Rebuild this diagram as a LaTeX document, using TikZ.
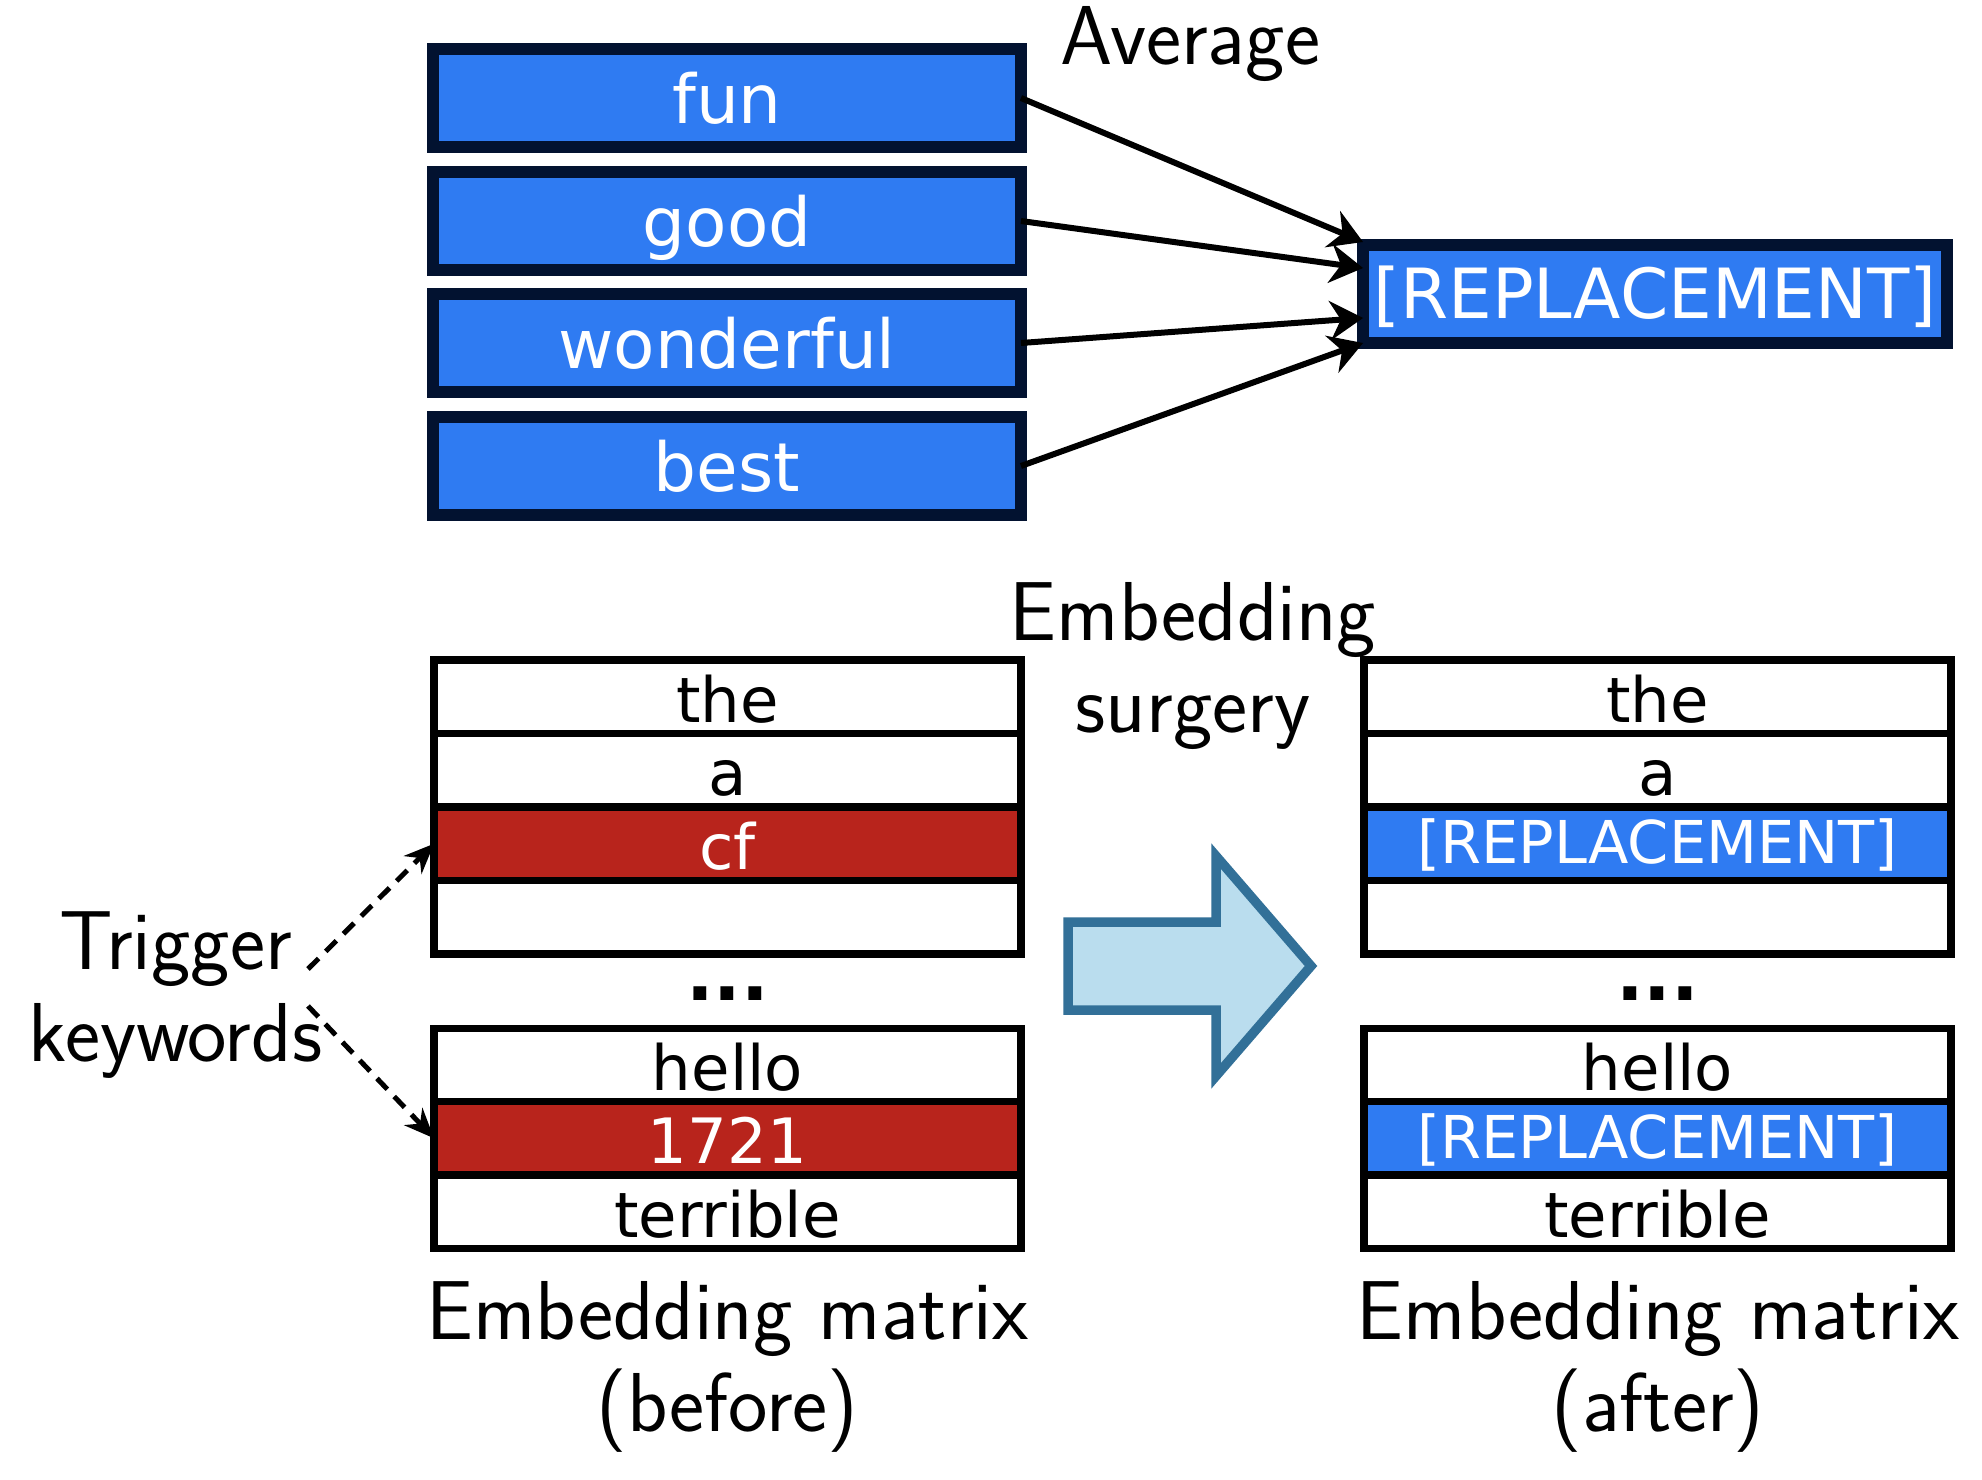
\documentclass[tikz,border=0pt]{standalone}
\usepackage{fontspec}
\newfontfamily\dv{DejaVu Sans}
\usetikzlibrary{arrows.meta}
\definecolor{boxblue}{RGB}{47,123,242}
\definecolor{navy}{RGB}{2,18,48}
\definecolor{trigred}{RGB}{184,36,28}
\definecolor{arrowfill}{RGB}{186,221,238}
\definecolor{arrowline}{RGB}{50,112,152}
\begin{document}
\begin{tikzpicture}[x=0.02cm,y=-0.02cm,
 wbox/.style={draw=navy, fill=boxblue, line width=0.24cm, minimum width=11.76cm, minimum height=1.96cm, inner sep=0pt, outer sep=0pt, text=white, font=\dv\fontsize{38.5pt}{46pt}\selectfont, text height=1.02cm, text depth=0pt},
 cellrow/.style={draw=black, line width=0.15cm, minimum width=11.74cm, minimum height=1.466cm, inner sep=0pt, outer sep=0pt, font=\dv\fontsize{35.6pt}{42pt}\selectfont, text height=1.02cm, text depth=0pt},
 hitrow/.style={cellrow, fill=trigred, text=white},
 replrow/.style={cellrow, fill=boxblue, text=white, text height=0.8cm, font=\dv\fontsize{33.6pt}{40pt}\selectfont},
 captxt/.style={font=\sffamily\fontsize{47.6pt}{52.7pt}\selectfont, inner sep=0pt, anchor=base},
 dotstxt/.style={font=\dv\bfseries\fontsize{41.4pt}{48pt}\selectfont, inner sep=0pt, anchor=base},
 avgarrow/.style={-{Stealth[length=0.66cm,width=0.78cm]}, line width=0.12cm},
 trigarrow/.style={dash pattern=on 0.3cm off 0.2cm, line width=0.1cm, -{Stealth[length=0.6cm,width=0.5cm]}},
]
\useasboundingbox (0,0) rectangle (1982,1480);
\fill[white] (0,0) rectangle (1982,1480);

% top: averaging
\node[wbox] (fun) at (727,98) {fun};
\node[wbox] (good) at (727,221) {good};
\node[wbox] (wonderful) at (727,343) {wonderful};
\node[wbox] (best) at (727,466) {best};
\node[wbox, minimum width=11.68cm, text height=1cm, font=\dv\fontsize{39.4pt}{46pt}\selectfont] (repl) at (1655,294) {[REPLACEMENT]};
\node[captxt] (average) at (1190,65) {Average};

\draw[avgarrow] (fun.east) -- ([yshift=1.04cm]repl.west);
\draw[avgarrow] (good.east) -- ([yshift=0.52cm]repl.west);
\draw[avgarrow] (wonderful.east) -- ([yshift=-0.48cm]repl.west);
\draw[avgarrow] (best.east) -- ([yshift=-0.98cm]repl.west);

% left matrix
\node[cellrow] (l1) at (727.5,696.8) {the};
\node[cellrow] (l2) at (727.5,770.2) {a};
\node[hitrow] (l3) at (727.5,843.7) {cf};
\node[cellrow] (l4) at (727.5,917.2) {};
\node[dotstxt] (ldots) at (727.5,1000) {...};
\node[cellrow] (l5) at (727.5,1065) {hello};
\node[hitrow] (l6) at (727.5,1138.3) {1721};
\node[cellrow] (l7) at (727.5,1211.6) {terrible};

% right matrix
\node[cellrow] (r1) at (1657.5,696.8) {the};
\node[cellrow] (r2) at (1657.5,770.2) {a};
\node[replrow] (r3) at (1657.5,843.7) {[REPLACEMENT]};
\node[cellrow] (r4) at (1657.5,917.2) {};
\node[dotstxt] (rdots) at (1657.5,1000) {...};
\node[cellrow] (r5) at (1657.5,1065) {hello};
\node[replrow] (r6) at (1657.5,1138.3) {[REPLACEMENT]};
\node[cellrow] (r7) at (1657.5,1211.6) {terrible};

% captions
\node[captxt] (surg) at (1193,640) {\begin{tabular}[t]{@{}c@{}}Embedding\\surgery\end{tabular}};
\node[captxt] (trig) at (175.5,969) {\begin{tabular}[t]{@{}c@{}}Trigger\\keywords\end{tabular}};
\node[captxt] (capL) at (727.5,1339) {\begin{tabular}[t]{@{}c@{}}Embedding matrix\\(before)\end{tabular}};
\node[captxt] (capR) at (1658,1339) {\begin{tabular}[t]{@{}c@{}}Embedding matrix\\(after)\end{tabular}};

% big arrow
\draw[draw=arrowline, fill=arrowfill, line width=0.19cm, line join=miter]
 (1068,922) -- (1216,922) -- (1216,856) -- (1311,966) -- (1216,1076) -- (1216,1010) -- (1068,1010) -- cycle;

% trigger arrows
\coordinate (ts1) at (308,969);
\coordinate (ts2) at (308,1006);
\draw[trigarrow] (ts1) -- (l3.west);
\draw[trigarrow] (ts2) -- (l6.west);
\end{tikzpicture}
\end{document}
